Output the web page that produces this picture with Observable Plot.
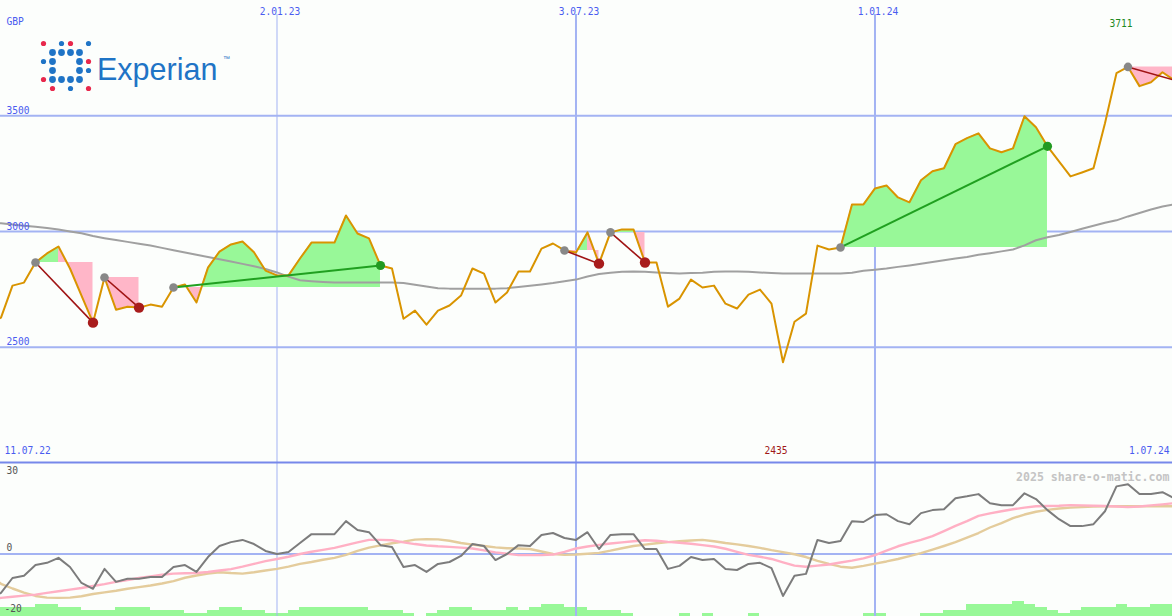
<!DOCTYPE html>
<html><head><meta charset="utf-8">
<script src="https://cdn.jsdelivr.net/npm/d3@7"></script>
<script src="https://cdn.jsdelivr.net/npm/@observablehq/plot@0.6"></script>
<style>
body{margin:0;background:#fcfefc;}
#wrap{position:relative;width:1172px;height:616px;overflow:hidden;background:#fcfefc;}
.layer{position:absolute;left:0;}
#logo{position:absolute;left:0;top:0;}
</style></head><body>
<div id="wrap">
<div class="layer" id="main" style="top:0"></div>
<div class="layer" id="vol" style="top:461px"></div>
<div class="layer" id="low" style="top:461px"></div>
<svg id="logo" width="240" height="100">
  <g id="dots"></g>
  <text x="97" y="80" font-family="Liberation Sans, Arial, sans-serif" font-size="30.5" fill="#1f74c6">Experian</text>
  <text x="223" y="61" font-family="Liberation Sans, Arial, sans-serif" font-size="7" fill="#1f74c6">™</text>
</svg>
</div>
<script>
// ---------- data ----------
const firstWeek = "2022-07-11";           // weekly closes from 11.07.22
const close = [2600,
  2628,2766,2779,2866,2905,2935,2840,2723,2606,2801,
  2662,2675,2671,2684,2675,2758,2771,2693,2844,2913,
  2944,2957,2910,2831,2810,2810,2883,2952,2952,2952,
  3069,2991,2970,2853,2840,2623,2658,2597,2658,2680,
  2723,2840,2818,2693,2736,2827,2827,2926,2948,2918,
  2909,2996,2861,2996,3009,3009,2866,2866,2675,2710,
  2792,2758,2766,2688,2667,2727,2749,2688,2435,2610,
  2645,2939,2922,2931,3117,3117,3186,3199,3147,3126,
  3221,3260,3273,3377,3403,3424,3359,3342,3359,3498,
  3450,3368,3303,3238,3255,3273,3468,3684,3711,3628,
  3645,3688,3654];
const movingAvg = [3040,
  3035,3030,3025,3020,3015,3008,3000,2992,2980,2971,
  2963,2955,2947,2939,2929,2919,2909,2899,2890,2880,
  2870,2860,2850,2838,2823,2805,2789,2785,2782,2780,
  2779,2779,2779,2779,2779,2777,2770,2762,2755,2753,
  2753,2753,2753,2753,2755,2760,2765,2771,2777,2785,
  2792,2805,2816,2822,2826,2827,2826,2823,2820,2818,
  2820,2822,2826,2827,2827,2826,2823,2820,2818,2818,
  2818,2818,2818,2818,2822,2830,2835,2840,2847,2853,
  2860,2868,2876,2883,2890,2899,2906,2914,2922,2940,
  2962,2975,2985,2998,3012,3025,3038,3048,3065,3080,
  3095,3108,3117];
const momentum = [-16,
  -14.1,-8.7,-7.9,-4.0,-3.2,-1.4,-4.7,-10.5,-12.6,-5.4,
  -10.1,-9.0,-9.0,-8.3,-8.3,-4.7,-4.0,-6.5,-1.1,2.9,
  4.3,5.1,3.6,1.1,0,0.7,4.0,7.2,7.2,7.2,
  11.9,8.7,7.9,3.2,2.5,-4.7,-4.0,-6.5,-3.6,-2.9,
  -0.7,3.6,2.9,-2.2,0,3.2,2.9,6.9,7.6,5.8,
  5.1,7.9,1.8,6.9,7.2,7.2,1.8,1.8,-5.4,-4.3,
  -1.1,-2.2,-1.8,-5.4,-5.8,-3.6,-3.2,-5.1,-15.2,-7.9,
  -7.2,5.1,4.0,4.7,11.9,11.6,14.1,14.4,11.9,10.8,
  14.8,15.9,16.2,20.2,20.9,21.7,18.4,17.7,17.7,22.0,
  19.9,15.9,12.6,10.1,10.1,10.8,15.5,24.5,25.3,21.7,
  21.7,22.4,20.2];
const momentumFast = [-16.5,
  -15.9,-15.5,-15.1,-14.7,-14.1,-13.5,-12.9,-12.3,-11.6,-10.9,
  -10.1,-9.4,-8.7,-8.1,-7.5,-7.1,-7.0,-6.9,-6.5,-6.0,
  -5.5,-4.6,-3.6,-2.6,-1.8,-1.0,0,0.8,1.5,2.2,
  3.2,4.2,5.1,5.1,5.0,4.2,3.6,3.1,2.8,2.6,
  2.3,2.0,1.3,0.6,0.1,-0.4,-0.4,-0.4,-0.2,0.8,
  2.0,2.7,3.3,3.8,4.2,4.6,5.0,4.8,4.4,4.1,
  3.7,3.2,2.7,1.9,0.8,-0.3,-1.0,-1.8,-3.0,-4.2,
  -4.6,-4.2,-3.8,-3.1,-2.4,-1.6,-0.4,1.2,2.8,4.0,
  5.1,6.5,8.3,10.2,11.9,13.8,14.7,15.5,16.2,16.8,
  17.3,17.4,17.5,17.7,17.6,17.5,17.4,17.2,17.0,17.2,
  17.6,18.0,18.4];
const momentumSlow = [-7.5,
  -10.8,-12.5,-14.0,-15.2,-15.8,-15.9,-15.8,-15.3,-14.5,-13.9,
  -13.3,-12.6,-12.0,-11.4,-10.7,-9.8,-8.6,-7.8,-7.1,-6.6,
  -6.9,-7.1,-6.6,-6.0,-5.4,-4.6,-3.6,-2.9,-2.1,-1.4,
  -0.3,1.1,2.3,3.1,3.9,4.5,5.2,5.4,5.3,4.8,
  4.0,3.4,2.9,2.4,2.1,2.0,1.8,0.9,0,-0.3,
  -0.2,0.1,0.4,1.2,2.1,2.9,3.4,3.9,4.3,4.6,
  4.9,5.1,4.6,4.0,3.5,2.9,2.2,1.4,0.7,-0.1,
  -1.1,-2.5,-3.6,-4.6,-5.0,-4.3,-3.5,-2.7,-1.8,-0.8,
  0.3,1.6,2.9,4.3,5.9,7.6,9.6,11.2,13.0,14.3,
  15.3,16.0,16.5,16.8,17.0,17.2,17.3,17.3,17.3,17.3,
  17.3,17.3,17.3];
const volume = [3,
  3,3,3,4,4,3,3,2,2,2,
  3,3,3,2,2,2,1,1,2,3,
  3,2,2,1,1,2,3,3,3,3,
  3,3,2,2,2,1,0,1,2,3,
  3,2,2,2,3,2,3,4,4,3,
  3,2,2,2,1,0,0,0,0,1,
  0,1,0,0,0,1,0,0,0,0,
  0,0,0,0,0,1,1,0,0,0,
  1,1,2,2,4,4,4,4,5,4,
  3,2,1,2,3,3,3,4,3,3,
  4,4,4];
// trend segments (week indices into the arrays above)
const segStart = [4, 10, 16, 50, 54, 74, 99];
const segEnd   = [9, 13, 34, 53, 57, 92, 103];
const segDir   = ["down","down","up","down","down","up","down"];
const xTickDates = ["2023-01-02","2023-07-03","2024-01-01"];
const priceTicks = [2500, 3000, 3500];
const lowTicks = [30, 0, -20];

// ---------- helpers ----------
const W = 1172;
const t0 = new Date(firstWeek + "T00:00Z");
const at = f => new Date(+t0 + f * 7 * 864e5);
const dates = close.map((_, i) => at(i));
const fmt = d3.utcFormat("%-d.%m.%y");
const xTicks = xTickDates.map(s => new Date(s + "T00:00Z"));
const xDomain = [new Date("2022-07-17T16:48Z"), new Date("2024-06-30T02:24Z")];
const font = "DejaVu Sans Mono, monospace";
const gridC = "#a3b3f3", tickC = "#4a5cf0";
const last = close.length - 1;
const iMin = d3.minIndex(close), iMax = d3.maxIndex(close);

// fills
const greenFill = [], pinkFill = [];
segStart.forEach((s, n) => {
  const e = segEnd[n], L = close[s];
  let p = e;
  if (segDir[n] === "down") { p = s; for (let i = s; i <= e; i++) if (close[i] >= close[p]) p = i; }
  const pts = [];
  for (let i = s; i <= e; i++) {
    pts.push({f: i, v: close[i]});
    if (i < e) {
      const a = close[i] - L, b = close[i + 1] - L;
      if (a * b < 0) pts.push({f: i + a / (a - b), v: L});
    }
  }
  pts.filter(d => d.f <= p).forEach(d => {
    greenFill.push({g: n, f: d.f, y1: L, y2: Math.max(d.v, L)});
    pinkFill.push({g: n + "a", f: d.f, y1: L, y2: Math.min(d.v, L)});
  });
  pts.filter(d => d.f >= p).forEach(d => pinkFill.push({g: n + "b", f: d.f, y1: L, y2: d.v}));
});
const segs = segStart.map((s, n) => ({s, e: segEnd[n], dir: segDir[n]}));
const upSegs = segs.filter(d => d.dir === "up"), downSegs = segs.filter(d => d.dir === "down");

const main = Plot.plot({
  width: W, height: 461, margin: 0,
  x: {type: "utc", domain: xDomain, axis: null},
  y: {domain: [2006, 3998], axis: null},
  style: {background: "transparent", fontFamily: font, fontSize: "9.6px", overflow: "hidden"},
  marks: [
    Plot.ruleY(priceTicks, {stroke: gridC, strokeWidth: 2}),
    Plot.ruleX(xTicks.slice(0, 1), {stroke: gridC, strokeWidth: 1, insetTop: 14}),
    Plot.ruleX(xTicks.slice(1), {stroke: gridC, strokeWidth: 2, insetTop: 14}),
    Plot.areaY(greenFill, {x: d => at(d.f), y1: "y1", y2: "y2", z: "g", fill: "#98f898"}),
    Plot.areaY(pinkFill, {x: d => at(d.f), y1: "y1", y2: "y2", z: "g", fill: "#ffb6c8"}),
    Plot.line(movingAvg, {x: (d, i) => dates[i], y: d => d, stroke: "#a0a0a0", strokeWidth: 2, clip: true}),
    Plot.line(close, {x: (d, i) => dates[i], y: d => d, stroke: "#d99400", strokeWidth: 2, clip: true}),
    Plot.link(upSegs, {x1: d => dates[d.s], y1: d => close[d.s], x2: d => dates[d.e], y2: d => close[d.e],
      stroke: "#20a020", strokeWidth: 2, clip: true}),
    Plot.link(downSegs, {x1: d => dates[d.s], y1: d => close[d.s], x2: d => dates[d.e], y2: d => close[d.e],
      stroke: "#a01414", strokeWidth: 1.6, clip: true}),
    Plot.dot(segs, {x: d => dates[d.s], y: d => close[d.s], r: 4.3, fill: "#888888"}),
    Plot.dot(upSegs.filter(d => d.e < last), {x: d => dates[d.e], y: d => close[d.e], r: 4.6, fill: "#229a22"}),
    Plot.dot(downSegs.filter(d => d.e < last), {x: d => dates[d.e], y: d => close[d.e], r: 5.2, fill: "#a81c1c"}),
    Plot.text(priceTicks, {y: d => d, text: d => String(d), frameAnchor: "left", dx: 6, dy: -5, textAnchor: "start", fill: tickC}),
    Plot.text(["GBP"], {frameAnchor: "top-left", dx: 6, dy: 18, textAnchor: "start", fill: tickC}),
    Plot.text(xTicks, {x: d => d, text: d => fmt(d), frameAnchor: "top", dy: 8, dx: 3, fill: tickC}),
    Plot.text([dates[0]], {text: d => fmt(d), frameAnchor: "bottom-left", dx: 4, dy: -8, textAnchor: "start", fill: tickC}),
    Plot.text([dates[last]], {text: d => fmt(d), frameAnchor: "bottom-right", dx: -3, dy: -8, textAnchor: "end", fill: tickC}),
    Plot.text([iMin], {x: i => dates[i], text: i => String(close[i]), frameAnchor: "bottom", dx: -7, dy: -8, fill: "#a01818"}),
    Plot.text([iMax], {x: i => dates[i], text: i => String(close[i]), frameAnchor: "top", dx: -7, dy: 20, fill: "#1e8a1e"})
  ]
});
document.getElementById("main").appendChild(main);

const vol = Plot.plot({
  width: W, height: 155, margin: 0,
  x: {type: "utc", domain: xDomain, axis: null},
  y: {domain: [0, 155 / 3], axis: null},
  style: {background: "transparent", overflow: "hidden"},
  marks: [
    Plot.rectY(volume, {x1: (d, i) => at(i), x2: (d, i) => at(i + 1), y1: 0, y2: d => d, fill: "#98f898",
      shapeRendering: "crispEdges", clip: true})
  ]
});
document.getElementById("vol").appendChild(vol);

const lowTop = 92.5 / 2.76, lowBot = -(155 - 92.5) / 2.76;
const low = Plot.plot({
  width: W, height: 155, margin: 0,
  x: {type: "utc", domain: xDomain, axis: null},
  y: {domain: [lowBot, lowTop], axis: null},
  style: {background: "transparent", fontFamily: font, fontSize: "9.6px", overflow: "hidden"},
  marks: [
    Plot.ruleX(xTicks.slice(0, 1), {stroke: gridC, strokeWidth: 1}),
    Plot.ruleX(xTicks.slice(1), {stroke: gridC, strokeWidth: 2}),
    Plot.ruleY([0], {stroke: gridC, strokeWidth: 2}),
    Plot.ruleY([lowTop], {stroke: "#7688ea", strokeWidth: 2, dy: 1}),
    Plot.line(momentumSlow, {x: (d, i) => dates[i], y: d => d, stroke: "#e4cc9c", strokeWidth: 2.4, clip: true}),
    Plot.line(momentumFast, {x: (d, i) => dates[i], y: d => d, stroke: "#ffb0c4", strokeWidth: 2.4, clip: true}),
    Plot.line(momentum, {x: (d, i) => dates[i], y: d => d, stroke: "#7c7c7c", strokeWidth: 2, clip: true}),
    Plot.text(lowTicks.filter(d => d === 30), {y: d => d, text: d => String(d), frameAnchor: "left", dx: 6, textAnchor: "start", fill: "#555555"}),
    Plot.text(lowTicks.filter(d => d === 0), {y: d => d, text: d => String(d), frameAnchor: "left", dx: 6, dy: -6, textAnchor: "start", fill: "#555555"}),
    Plot.text(lowTicks.filter(d => d === -20), {y: d => d, text: d => String(d), frameAnchor: "left", dx: 4, textAnchor: "start", fill: "#555555"}),
    Plot.text(["2025 share-o-matic.com"], {frameAnchor: "top-right", dx: -3, dy: 11, textAnchor: "end", fill: "#c4c4c4", fontWeight: "bold", fontSize: 11.6})
  ]
});
document.getElementById("low").appendChild(low);

// logo dots (decoration)
const logoDots = [
  [0,0,"r"],[2,0,"b"],[3,0,"r"],[5,0,"b"],
  [1,1,"B"],[2,1,"B"],[3,1,"B"],[4,1,"B"],
  [0,2,"b"],[1,2,"B"],[4,2,"B"],[5,2,"r"],
  [1,3,"B"],[4,3,"B"],[5,3,"b"],
  [0,4,"r"],[1,4,"B"],[2,4,"B"],[3,4,"B"],[4,4,"B"],
  [1,5,"r"],[3,5,"b"],[5,5,"r"]
];
const g = d3.select("#dots");
g.selectAll("circle").data(logoDots).join("circle")
  .attr("cx", d => 43.5 + 9 * d[0]).attr("cy", d => 43.5 + 9 * d[1])
  .attr("r", d => d[2] === "B" ? 3.4 : 2.6)
  .attr("fill", d => d[2] === "r" ? "#e8284c" : "#1f74c6");
</script>
</body></html>
